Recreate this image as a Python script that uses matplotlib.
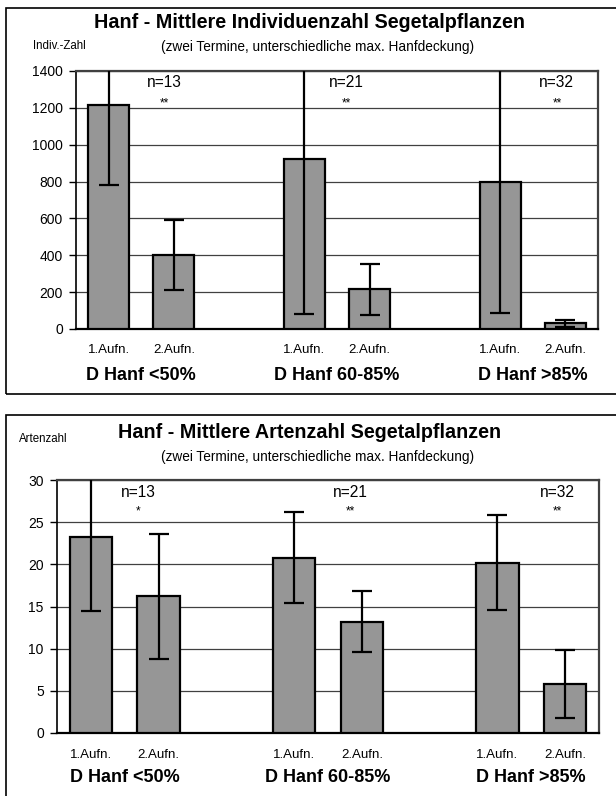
import matplotlib
matplotlib.use('Agg')
import matplotlib.pyplot as plt
import matplotlib.transforms as mtransforms
from matplotlib.patches import Rectangle

plt.rcParams['font.family'] = ['Liberation Sans', 'DejaVu Sans']

# x slots: two bars per group, gap of one slot between groups
pos = [0, 1, 3, 4, 6, 7]
bar_labels = ['1.Aufn.', '2.Aufn.', '1.Aufn.', '2.Aufn.', '1.Aufn.', '2.Aufn.']
groups = ['D Hanf <50%', 'D Hanf 60-85%', 'D Hanf >85%']
n_labels = ['n=13', 'n=21', 'n=32']

# chart 1: Individuenzahl
indiv = [1215, 400, 920, 215, 800, 30]
indiv_err = [435, 190, 840, 140, 715, 20]
indiv_sig = ['**', '**', '**']

# chart 2: Artenzahl
arten = [23.3, 16.2, 20.8, 13.2, 20.2, 5.8]
arten_err = [8.8, 7.4, 5.4, 3.6, 5.6, 4.05]
arten_sig = ['*', '**', '**']

W, H = 616, 796
fig = plt.figure(figsize=(W / 100, H / 100), dpi=100)


def fx(px):
    return px / W


def fy(py):
    return 1 - py / H


def frame(x0, y0, x1, y1):
    fig.patches.append(Rectangle((fx(x0), fy(y1)), fx(x1) - fx(x0), fy(y0) - fy(y1),
                                 transform=fig.transFigure, fill=False,
                                 edgecolor='black', lw=1.2))


def panel(box, vals, errs, sig, ymax, step, title, ylab, ylab_xy, title_y, sub_y,
          lab_y, grp_y, n_x, n_y, s_y):
    l, t, r, b = box
    ax = fig.add_axes([fx(l), fy(b), fx(r) - fx(l), fy(t) - fy(b)])
    ax.bar(pos, vals, width=0.63, color='#969696', edgecolor='black', lw=1.6, zorder=3)
    ax.errorbar(pos, vals, yerr=errs, fmt='none', ecolor='black', elinewidth=1.6,
                capsize=7, capthick=1.6, zorder=4)
    ax.set_xlim(-0.5, 7.5)
    ax.set_ylim(0, ymax)
    ax.set_yticks(range(0, ymax + 1, step))
    ax.yaxis.grid(True, color='#404040', lw=0.9, zorder=0)
    ax.set_xticks([])
    for s in ['top', 'right']:
        ax.spines[s].set_color('#404040')
        ax.spines[s].set_linewidth(1.6)
    ax.spines['left'].set_linewidth(1.2)
    ax.spines['bottom'].set_linewidth(1.6)
    ax.tick_params(axis='y', length=5, width=1, labelsize=10, pad=4.5)
    xa = ax.get_xaxis_transform()
    tr = mtransforms.blended_transform_factory(ax.transData, fig.transFigure)
    for i, g in enumerate(groups):
        ax.text(n_x[i], n_y, n_labels[i], transform=xa, ha='center', va='center', fontsize=11.2)
        ax.text(n_x[i], s_y, sig[i], transform=xa, ha='center', va='center', fontsize=8.5)
        ax.text((pos[2 * i] + pos[2 * i + 1]) / 2, fy(grp_y), g, transform=tr,
                ha='center', va='center', fontsize=13, fontweight='bold')
    for p, lab in zip(pos, bar_labels):
        ax.text(p, fy(lab_y), lab, transform=tr, ha='center', va='center', fontsize=9.5)
    fig.text(fx(310), fy(title_y), title, ha='center', va='center',
             fontsize=14.2, fontweight='bold')
    fig.text(fx(318), fy(sub_y), '(zwei Termine, unterschiedliche max. Hanfdeckung)',
             ha='center', va='center', fontsize=9.8)
    fig.text(fx(ylab_xy[0]), fy(ylab_xy[1]), ylab, ha='center', va='center', fontsize=8.3)
    return ax


frame(6, 8, 620, 394)
frame(6, 415, 620, 800)

panel((76, 71, 598, 329), indiv, indiv_err, indiv_sig, 1400, 200,
      'Hanf - Mittlere Individuenzahl Segetalpflanzen', 'Indiv.-Zahl', (59, 46),
      22, 47, 350, 375, [0.86, 3.65, 6.87], 0.955, 0.876)
panel((57, 480, 599, 733), arten, arten_err, arten_sig, 30, 5,
      'Hanf - Mittlere Artenzahl Segetalpflanzen', 'Artenzahl', (43, 439),
      432, 457, 755, 777, [0.70, 3.83, 6.88], 0.95, 0.877)

fig.savefig('out.png', dpi=100)
